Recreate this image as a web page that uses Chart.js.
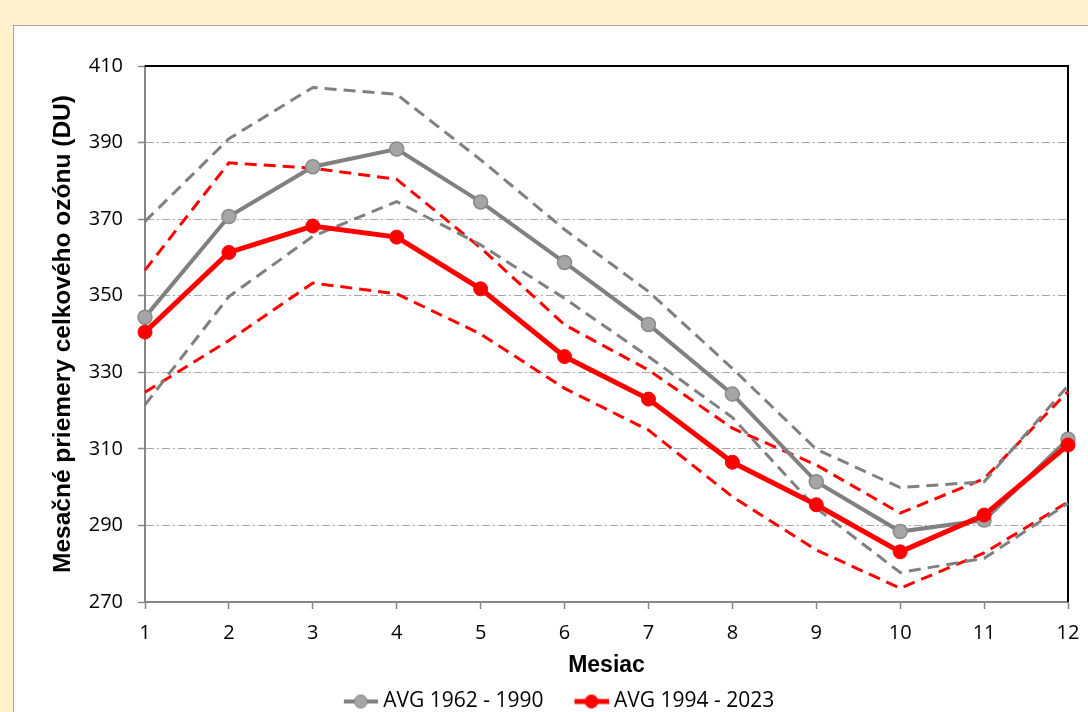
<!DOCTYPE html>
<html>
<head>
<meta charset="utf-8">
<script src="https://cdn.jsdelivr.net/npm/chart.js@4.4.0/dist/chart.umd.min.js"></script>
<style>
html, body { margin: 0; padding: 0; width: 1088px; height: 712px; overflow: hidden; background: #fff2cc; }
#panel { position: absolute; left: 13px; top: 25px; width: 1100px; height: 720px; background: #fff; border: 1px solid #a3a3a3; }
#c { position: absolute; left: 14px; top: 26px; }
</style>
</head>
<body>
<div id="panel"></div>
<canvas id="c" width="1100" height="696"></canvas>
<script>
// mesiace
var months = ["1", "2", "3", "4", "5", "6", "7", "8", "9", "10", "11", "12"];
// priemery 1962 - 1990 (sivá)
var avgOld = [344.4, 370.7, 383.7, 388.3, 374.5, 358.7, 342.5, 324.3, 301.4, 288.4, 291.4, 312.5];
var avgOldHigh = [369.4, 391.0, 404.4, 402.6, 385.5, 367.3, 351.1, 331.0, 309.9, 299.9, 301.4, 326.5];
var avgOldLow = [321.5, 349.8, 365.5, 374.6, 363.3, 349.3, 334.1, 318.2, 294.5, 277.7, 281.4, 295.8];
// priemery 1994 - 2023 (červená)
var avgNew = [340.5, 361.3, 368.2, 365.3, 351.8, 334.1, 323.0, 306.5, 295.4, 283.1, 292.7, 311.0];
var avgNewHigh = [356.7, 384.7, 383.3, 380.4, 362.5, 342.4, 330.6, 315.4, 305.8, 293.2, 302.2, 325.0];
var avgNewLow = [324.8, 338.3, 353.3, 350.5, 340.0, 325.8, 314.9, 297.5, 283.6, 273.6, 282.8, 296.1];
// os y
var yMin = 270, yMax = 410, yStep = 20;

var gray = "#808080";
var red = "#ff0000";

//znacka do legendy: ciara s bodom
function marker(color, fill, lw) {
    var c = document.createElement("canvas");
    c.width = 60;
    c.height = 16;
    var g = c.getContext("2d");
    g.strokeStyle = color;
    g.lineWidth = lw;
    g.beginPath();
    g.moveTo(26, 8);
    g.lineTo(60, 8);
    g.stroke();
    g.beginPath();
    g.arc(43, 8, 6.5, 0, 2 * Math.PI);
    g.fillStyle = fill;
    g.fill();
    g.lineWidth = 1;
    g.stroke();
    return c;
}
var markers = [marker(gray, "#a5a5a5", 4), marker(red, red, 5)];

//horny a pravy okraj grafu
var frame = {
    id: "frame",
    beforeDatasetsDraw: function (chart) {
        var a = chart.chartArea, ctx = chart.ctx;
        ctx.save();
        ctx.strokeStyle = "#000";
        ctx.lineWidth = 2;
        ctx.beginPath();
        ctx.moveTo(a.left, a.top);
        ctx.lineTo(a.right, a.top);
        ctx.lineTo(a.right, a.bottom);
        ctx.stroke();
        ctx.restore();
    }
};

function dashed(data, color) {
    return {
        label: "",
        data: data,
        borderColor: color,
        borderWidth: 3,
        borderDash: [12, 7],
        pointRadius: 0,
        fill: false,
        order: 2,
        clip: false
    };
}

var myChart = new Chart(document.getElementById("c"), {
    type: "line",
    data: {
        labels: months,
        datasets: [
            {
                label: "AVG 1962 - 1990",
                data: avgOld,
                borderColor: gray,
                borderWidth: 4,
                pointRadius: 7,
                pointBackgroundColor: "#a5a5a5",
                pointBorderColor: "#8a8a8a",
                pointBorderWidth: 1.5,
                order: 1,
                clip: false
            },
            {
                label: "AVG 1994 - 2023",
                data: avgNew,
                borderColor: red,
                borderWidth: 5,
                pointRadius: 7,
                pointBackgroundColor: red,
                pointBorderColor: red,
                pointBorderWidth: 1,
                order: 0,
                clip: false
            },
            dashed(avgOldHigh, gray),
            dashed(avgOldLow, gray),
            dashed(avgNewHigh, red),
            dashed(avgNewLow, red)
        ]
    },
    options: {
        responsive: false,
        animation: false,
        layout: { padding: { top: 40, left: 15, right: 46, bottom: 0 } },
        plugins: {
            tooltip: { enabled: false },
            legend: {
                position: "bottom",
                labels: {
                    usePointStyle: true,
                    pointStyleWidth: 50,
                    padding: 10,
                    color: "#000",
                    font: { family: "Open Sans", size: 21 },
                    filter: function (item) { return item.datasetIndex < 2; },
                    sort: function (a, b) { return a.datasetIndex - b.datasetIndex; },
                    generateLabels: function (chart) {
                        var items = Chart.defaults.plugins.legend.labels.generateLabels(chart);
                        items.forEach(function (it) {
                            if (it.datasetIndex < 2) it.pointStyle = markers[it.datasetIndex];
                        });
                        return items;
                    }
                }
            }
        },
        scales: {
            x: {
                offset: false,
                afterFit: function (s) { s.height = 79; },
                grid: { drawOnChartArea: false, offset: false, tickLength: 7, tickColor: "#868686", tickWidth: 1.5 },
                border: { color: "#868686", width: 2 },
                ticks: { color: "#000", padding: 12, font: { family: "Open Sans", size: 20 } },
                title: {
                    display: true,
                    text: "Mesiac",
                    color: "#000",
                    padding: { top: 0, bottom: 2 },
                    font: { family: "Liberation Sans", size: 23, weight: "bold" }
                }
            },
            y: {
                min: yMin,
                max: yMax,
                afterFit: function (s) { s.width = 116; },
                grid: { color: "#a6a6a6", lineWidth: 1, tickLength: 7, tickColor: "#868686", tickWidth: 1.5, tickBorderDash: [] },
                border: { color: "#868686", width: 2, dash: [8, 3, 2, 3] },
                ticks: { stepSize: yStep, color: "#000", padding: 15, font: { family: "Open Sans", size: 20 } },
                title: {
                    display: true,
                    text: "Mesačné priemery celkového ozónu (DU)",
                    color: "#000",
                    padding: { top: 20, bottom: 0 },
                    font: { family: "Liberation Sans", size: 24.5, weight: "bold" }
                }
            }
        }
    },
    plugins: [frame]
});
</script>
</body>
</html>
